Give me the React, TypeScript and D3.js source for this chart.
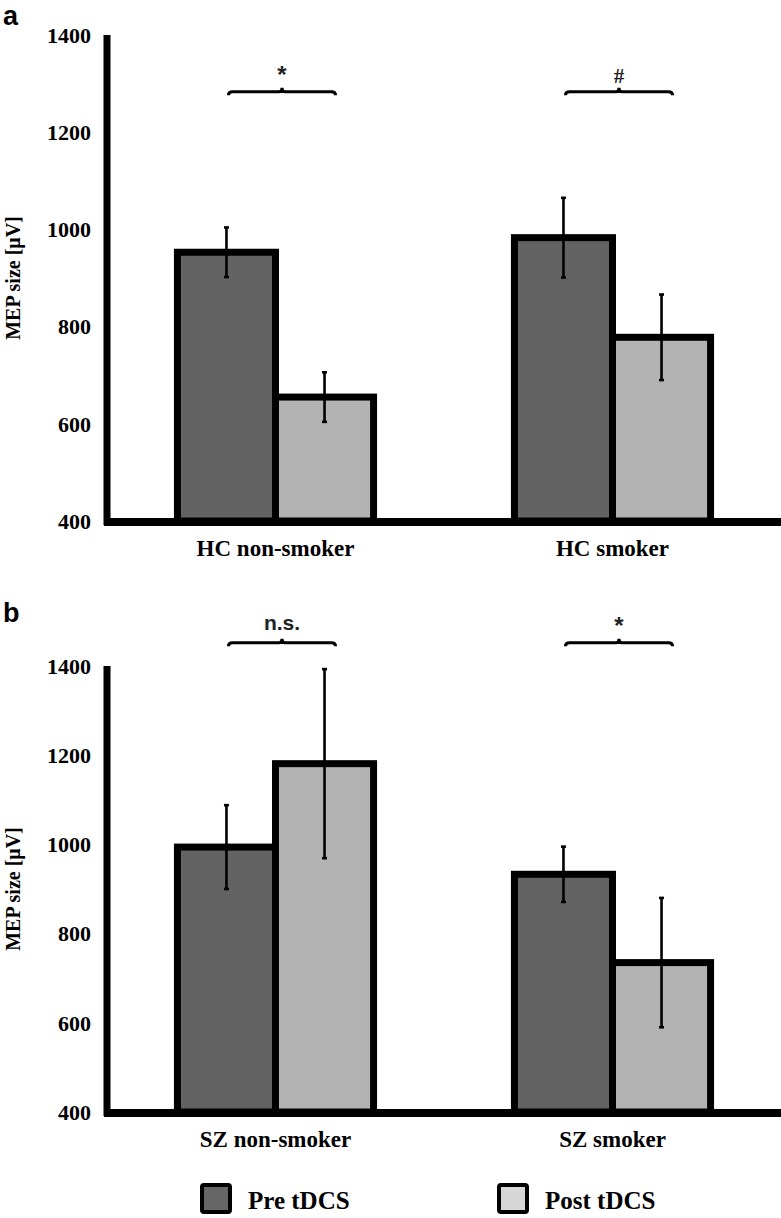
import * as d3 from "d3";
import React from "react";

// data (MEP size in µV, mean ± error)
const seriesNames = ["Pre tDCS", "Post tDCS"];
const panelACategories = ["HC non-smoker", "HC smoker"];
const panelBCategories = ["SZ non-smoker", "SZ smoker"];
const panelAPre = [953, 983];
const panelAPost = [655, 778];
const panelAPreErr = [51, 82];
const panelAPostErr = [51, 88];
const panelBPre = [994, 933];
const panelBPost = [1181, 735];
const panelBPreErr = [94, 62];
const panelBPostErr = [212, 145];
const panelASig = ["*", "#"];
const panelBSig = ["n.s.", "*"];
const bracketLevelA = 1283;
const bracketLevelB = 1452;
const yTicks = [400, 600, 800, 1000, 1200, 1400];

const W = 781;
const H = 1218;
const axisX = 107;
const preFill = "#636363";
const postFill = "#b3b3b3";
const serif = "'Liberation Serif', 'Times New Roman', serif";
const sans = "'Liberation Sans', Arial, sans-serif";

interface PanelProps {
  label: string;
  categories: string[];
  pre: number[];
  post: number[];
  preErr: number[];
  postErr: number[];
  sig: string[];
  bracketLevel: number;
  yTop: number;
  yBottom: number;
  labelY: number;
}

const Panel: React.FC<PanelProps> = ({
  label,
  categories,
  pre,
  post,
  preErr,
  postErr,
  sig,
  bracketLevel,
  yTop,
  yBottom,
  labelY,
}) => {
  const y = d3.scaleLinear().domain([400, 1400]).range([yBottom, yTop]);
  const x0 = d3
    .scaleBand<string>()
    .domain(categories)
    .range([axisX, W])
    .paddingInner(0.418)
    .paddingOuter(0.209);
  const x1 = d3
    .scaleBand<string>()
    .domain(seriesNames)
    .range([0, x0.bandwidth()]);

  const rows = categories.map((c, i) => ({
    cat: c,
    bars: [
      { s: seriesNames[0], v: pre[i], e: preErr[i], fill: preFill },
      { s: seriesNames[1], v: post[i], e: postErr[i], fill: postFill },
    ],
    sig: sig[i],
  }));

  const bw = x1.bandwidth();
  const yb = y(bracketLevel);

  return (
    <g>
      <text
        x={3}
        y={labelY}
        fontFamily={sans}
        fontWeight="bold"
        fontSize={27}
        fill="#000"
      >
        {label}
      </text>

      {/* y axis title */}
      <text
        transform={`translate(20,${(yTop + yBottom) / 2}) rotate(-90)`}
        textAnchor="middle"
        fontFamily={serif}
        fontWeight="bold"
        fontSize={20}
      >
        MEP size [μV]
      </text>

      {yTicks.map((t) => (
        <text
          key={t}
          x={91}
          y={y(t)}
          dy="0.35em"
          textAnchor="end"
          fontFamily={serif}
          fontWeight="bold"
          fontSize={22}
        >
          {t}
        </text>
      ))}

      {rows.map((r) => {
        const gx = x0(r.cat) as number;
        return (
          <g key={r.cat}>
            {r.bars.map((b) => {
              const bx = gx + (x1(b.s) as number);
              return (
                <rect
                  key={b.s}
                  x={bx}
                  y={y(b.v)}
                  width={bw}
                  height={yBottom - y(b.v)}
                  fill={b.fill}
                  stroke="#000"
                  strokeWidth={7}
                />
              );
            })}
            {r.bars.map((b) => {
              const cx = gx + (x1(b.s) as number) + bw / 2;
              return (
                <g key={b.s + "err"} stroke="#000" strokeWidth={2.6}>
                  <line x1={cx} x2={cx} y1={y(b.v - b.e)} y2={y(b.v + b.e)} />
                  <line x1={cx - 2.5} x2={cx + 2.5} y1={y(b.v + b.e)} y2={y(b.v + b.e)} />
                  <line x1={cx - 2.5} x2={cx + 2.5} y1={y(b.v - b.e)} y2={y(b.v - b.e)} />
                </g>
              );
            })}
            {(() => {
              const l = gx + bw / 2 + 2;
              const rr = gx + bw * 1.5 + 11;
              const m = (l + rr) / 2;
              const d = `M${l},${yb + 3.5} Q${l},${yb} ${l + 4},${yb} L${m - 3},${yb} Q${m},${yb} ${m},${yb - 4} Q${m},${yb} ${m + 3},${yb} L${rr - 4},${yb} Q${rr},${yb} ${rr},${yb + 3.5}`;
              return (
                <g>
                  <path d={d} fill="none" stroke="#000" strokeWidth={3} />
                  <text
                    x={m}
                    y={r.sig === "n.s." ? yb - 13 : yb - 9}
                    textAnchor="middle"
                    fontFamily={r.sig === "#" ? serif : sans}
                    fontWeight="bold"
                    fontSize={r.sig === "n.s." ? 21 : r.sig === "#" ? 21 : 24}
                    fill="#222"
                  >
                    {r.sig}
                  </text>
                </g>
              );
            })()}
            <text
              x={gx + bw}
              y={yBottom + 35}
              textAnchor="middle"
              fontFamily={serif}
              fontWeight="bold"
              fontSize={23}
            >
              {r.cat}
            </text>
          </g>
        );
      })}

      {/* axes */}
      <line x1={axisX} x2={axisX} y1={yTop} y2={yBottom + 4} stroke="#000" strokeWidth={7} />
      <line x1={axisX - 3} x2={W} y1={yBottom + 1} y2={yBottom + 1} stroke="#000" strokeWidth={8} />
    </g>
  );
};

export default function App() {
  const legendItems = [
    { name: seriesNames[0], fill: "#666666", x: 202 },
    { name: seriesNames[1], fill: "#d6d6d6", x: 499 },
  ];
  return (
    <div style={{ position: "absolute", left: 0, top: 0 }}>
      <svg width={W} height={H} style={{ display: "block", background: "#fff" }}>
        <Panel
          label="a"
          categories={panelACategories}
          pre={panelAPre}
          post={panelAPost}
          preErr={panelAPreErr}
          postErr={panelAPostErr}
          sig={panelASig}
          bracketLevel={bracketLevelA}
          yTop={35}
          yBottom={521}
          labelY={25}
        />
        <Panel
          label="b"
          categories={panelBCategories}
          pre={panelBPre}
          post={panelBPost}
          preErr={panelBPreErr}
          postErr={panelBPostErr}
          sig={panelBSig}
          bracketLevel={bracketLevelB}
          yTop={666}
          yBottom={1112}
          labelY={622}
        />
        {legendItems.map((it) => (
          <g key={it.name}>
            <rect
              x={it.x}
              y={1185}
              width={28}
              height={27}
              rx={2}
              fill={it.fill}
              stroke="#000"
              strokeWidth={4}
            />
            <text
              x={it.x + 46}
              y={1209}
              fontFamily={serif}
              fontWeight="bold"
              fontSize={25}
            >
              {it.name}
            </text>
          </g>
        ))}
      </svg>
    </div>
  );
}
